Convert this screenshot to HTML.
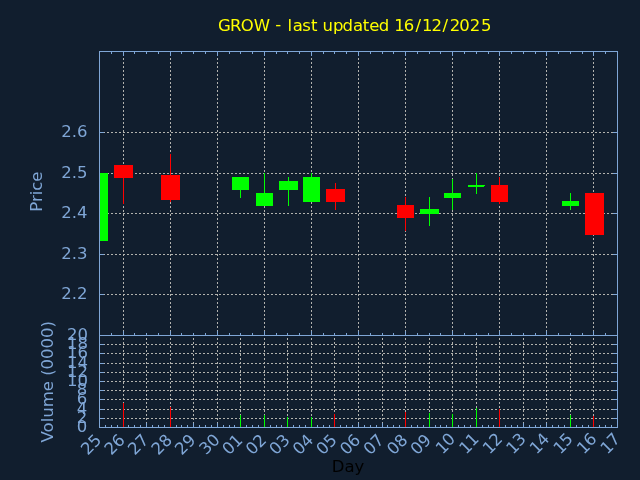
<!DOCTYPE html>
<html><head><meta charset="utf-8"><style>
html,body{margin:0;padding:0;background:#111e2e;width:640px;height:480px;overflow:hidden}
svg{display:block;will-change:transform}
</style></head><body>
<svg width="640" height="480" viewBox="0 0 640 480">
<rect width="640" height="480" fill="#111e2e"/>
<g stroke="#b2b2ae" stroke-width="1" stroke-dasharray="2 2" shape-rendering="crispEdges"><line x1="99" y1="132.5" x2="617" y2="132.5"/><line x1="99" y1="173.5" x2="617" y2="173.5"/><line x1="99" y1="213.5" x2="617" y2="213.5"/><line x1="99" y1="254.5" x2="617" y2="254.5"/><line x1="99" y1="294.5" x2="617" y2="294.5"/><line x1="123.5" y1="336" x2="123.5" y2="51"/><line x1="170.5" y1="336" x2="170.5" y2="51"/><line x1="217.5" y1="336" x2="217.5" y2="51"/><line x1="264.5" y1="336" x2="264.5" y2="51"/><line x1="311.5" y1="336" x2="311.5" y2="51"/><line x1="358.5" y1="336" x2="358.5" y2="51"/><line x1="405.5" y1="336" x2="405.5" y2="51"/><line x1="452.5" y1="336" x2="452.5" y2="51"/><line x1="499.5" y1="336" x2="499.5" y2="51"/><line x1="546.5" y1="336" x2="546.5" y2="51"/><line x1="593.5" y1="336" x2="593.5" y2="51"/><line x1="99" y1="344.5" x2="617" y2="344.5"/><line x1="99" y1="353.5" x2="617" y2="353.5"/><line x1="99" y1="363.5" x2="617" y2="363.5"/><line x1="99" y1="372.5" x2="617" y2="372.5"/><line x1="99" y1="381.5" x2="617" y2="381.5"/><line x1="99" y1="390.5" x2="617" y2="390.5"/><line x1="99" y1="399.5" x2="617" y2="399.5"/><line x1="99" y1="409.5" x2="617" y2="409.5"/><line x1="99" y1="418.5" x2="617" y2="418.5"/><line x1="123.5" y1="428" x2="123.5" y2="335"/><line x1="146.5" y1="428" x2="146.5" y2="335"/><line x1="170.5" y1="428" x2="170.5" y2="335"/><line x1="193.5" y1="428" x2="193.5" y2="335"/><line x1="217.5" y1="428" x2="217.5" y2="335"/><line x1="240.5" y1="428" x2="240.5" y2="335"/><line x1="264.5" y1="428" x2="264.5" y2="335"/><line x1="287.5" y1="428" x2="287.5" y2="335"/><line x1="311.5" y1="428" x2="311.5" y2="335"/><line x1="334.5" y1="428" x2="334.5" y2="335"/><line x1="358.5" y1="428" x2="358.5" y2="335"/><line x1="382.5" y1="428" x2="382.5" y2="335"/><line x1="405.5" y1="428" x2="405.5" y2="335"/><line x1="429.5" y1="428" x2="429.5" y2="335"/><line x1="452.5" y1="428" x2="452.5" y2="335"/><line x1="476.5" y1="428" x2="476.5" y2="335"/><line x1="499.5" y1="428" x2="499.5" y2="335"/><line x1="523.5" y1="428" x2="523.5" y2="335"/><line x1="546.5" y1="428" x2="546.5" y2="335"/><line x1="570.5" y1="428" x2="570.5" y2="335"/><line x1="593.5" y1="428" x2="593.5" y2="335"/></g>
<g fill="#7fa6d6" shape-rendering="crispEdges"><rect x="99" y="132" width="5" height="1"/><rect x="613" y="132" width="5" height="1"/><rect x="99" y="173" width="5" height="1"/><rect x="613" y="173" width="5" height="1"/><rect x="99" y="213" width="5" height="1"/><rect x="613" y="213" width="5" height="1"/><rect x="99" y="254" width="5" height="1"/><rect x="613" y="254" width="5" height="1"/><rect x="99" y="294" width="5" height="1"/><rect x="613" y="294" width="5" height="1"/><rect x="99" y="344" width="5" height="1"/><rect x="613" y="344" width="5" height="1"/><rect x="99" y="353" width="5" height="1"/><rect x="613" y="353" width="5" height="1"/><rect x="99" y="363" width="5" height="1"/><rect x="613" y="363" width="5" height="1"/><rect x="99" y="372" width="5" height="1"/><rect x="613" y="372" width="5" height="1"/><rect x="99" y="381" width="5" height="1"/><rect x="613" y="381" width="5" height="1"/><rect x="99" y="390" width="5" height="1"/><rect x="613" y="390" width="5" height="1"/><rect x="99" y="399" width="5" height="1"/><rect x="613" y="399" width="5" height="1"/><rect x="99" y="409" width="5" height="1"/><rect x="613" y="409" width="5" height="1"/><rect x="99" y="418" width="5" height="1"/><rect x="613" y="418" width="5" height="1"/><rect x="111" y="51" width="1" height="3"/><rect x="111" y="333" width="1" height="3"/><rect x="123" y="51" width="1" height="5"/><rect x="123" y="331" width="1" height="5"/><rect x="134" y="51" width="1" height="3"/><rect x="134" y="333" width="1" height="3"/><rect x="146" y="51" width="1" height="3"/><rect x="146" y="333" width="1" height="3"/><rect x="158" y="51" width="1" height="3"/><rect x="158" y="333" width="1" height="3"/><rect x="170" y="51" width="1" height="5"/><rect x="170" y="331" width="1" height="5"/><rect x="181" y="51" width="1" height="3"/><rect x="181" y="333" width="1" height="3"/><rect x="193" y="51" width="1" height="3"/><rect x="193" y="333" width="1" height="3"/><rect x="205" y="51" width="1" height="3"/><rect x="205" y="333" width="1" height="3"/><rect x="217" y="51" width="1" height="5"/><rect x="217" y="331" width="1" height="5"/><rect x="229" y="51" width="1" height="3"/><rect x="229" y="333" width="1" height="3"/><rect x="240" y="51" width="1" height="3"/><rect x="240" y="333" width="1" height="3"/><rect x="252" y="51" width="1" height="3"/><rect x="252" y="333" width="1" height="3"/><rect x="264" y="51" width="1" height="5"/><rect x="264" y="331" width="1" height="5"/><rect x="276" y="51" width="1" height="3"/><rect x="276" y="333" width="1" height="3"/><rect x="287" y="51" width="1" height="3"/><rect x="287" y="333" width="1" height="3"/><rect x="299" y="51" width="1" height="3"/><rect x="299" y="333" width="1" height="3"/><rect x="311" y="51" width="1" height="5"/><rect x="311" y="331" width="1" height="5"/><rect x="323" y="51" width="1" height="3"/><rect x="323" y="333" width="1" height="3"/><rect x="334" y="51" width="1" height="3"/><rect x="334" y="333" width="1" height="3"/><rect x="346" y="51" width="1" height="3"/><rect x="346" y="333" width="1" height="3"/><rect x="358" y="51" width="1" height="5"/><rect x="358" y="331" width="1" height="5"/><rect x="370" y="51" width="1" height="3"/><rect x="370" y="333" width="1" height="3"/><rect x="382" y="51" width="1" height="3"/><rect x="382" y="333" width="1" height="3"/><rect x="393" y="51" width="1" height="3"/><rect x="393" y="333" width="1" height="3"/><rect x="405" y="51" width="1" height="5"/><rect x="405" y="331" width="1" height="5"/><rect x="417" y="51" width="1" height="3"/><rect x="417" y="333" width="1" height="3"/><rect x="429" y="51" width="1" height="3"/><rect x="429" y="333" width="1" height="3"/><rect x="440" y="51" width="1" height="3"/><rect x="440" y="333" width="1" height="3"/><rect x="452" y="51" width="1" height="5"/><rect x="452" y="331" width="1" height="5"/><rect x="464" y="51" width="1" height="3"/><rect x="464" y="333" width="1" height="3"/><rect x="476" y="51" width="1" height="3"/><rect x="476" y="333" width="1" height="3"/><rect x="488" y="51" width="1" height="3"/><rect x="488" y="333" width="1" height="3"/><rect x="499" y="51" width="1" height="5"/><rect x="499" y="331" width="1" height="5"/><rect x="511" y="51" width="1" height="3"/><rect x="511" y="333" width="1" height="3"/><rect x="523" y="51" width="1" height="3"/><rect x="523" y="333" width="1" height="3"/><rect x="535" y="51" width="1" height="3"/><rect x="535" y="333" width="1" height="3"/><rect x="546" y="51" width="1" height="5"/><rect x="546" y="331" width="1" height="5"/><rect x="558" y="51" width="1" height="3"/><rect x="558" y="333" width="1" height="3"/><rect x="570" y="51" width="1" height="3"/><rect x="570" y="333" width="1" height="3"/><rect x="582" y="51" width="1" height="3"/><rect x="582" y="333" width="1" height="3"/><rect x="593" y="51" width="1" height="5"/><rect x="593" y="331" width="1" height="5"/><rect x="605" y="51" width="1" height="3"/><rect x="605" y="333" width="1" height="3"/><rect x="105" y="425" width="1" height="3"/><rect x="111" y="425" width="1" height="3"/><rect x="117" y="425" width="1" height="3"/><rect x="123" y="423" width="1" height="5"/><rect x="128" y="425" width="1" height="3"/><rect x="134" y="425" width="1" height="3"/><rect x="140" y="425" width="1" height="3"/><rect x="146" y="423" width="1" height="5"/><rect x="152" y="425" width="1" height="3"/><rect x="158" y="425" width="1" height="3"/><rect x="164" y="425" width="1" height="3"/><rect x="170" y="423" width="1" height="5"/><rect x="176" y="425" width="1" height="3"/><rect x="181" y="425" width="1" height="3"/><rect x="187" y="425" width="1" height="3"/><rect x="193" y="423" width="1" height="5"/><rect x="199" y="425" width="1" height="3"/><rect x="205" y="425" width="1" height="3"/><rect x="211" y="425" width="1" height="3"/><rect x="217" y="423" width="1" height="5"/><rect x="223" y="425" width="1" height="3"/><rect x="229" y="425" width="1" height="3"/><rect x="234" y="425" width="1" height="3"/><rect x="240" y="423" width="1" height="5"/><rect x="246" y="425" width="1" height="3"/><rect x="252" y="425" width="1" height="3"/><rect x="258" y="425" width="1" height="3"/><rect x="264" y="423" width="1" height="5"/><rect x="270" y="425" width="1" height="3"/><rect x="276" y="425" width="1" height="3"/><rect x="281" y="425" width="1" height="3"/><rect x="287" y="423" width="1" height="5"/><rect x="293" y="425" width="1" height="3"/><rect x="299" y="425" width="1" height="3"/><rect x="305" y="425" width="1" height="3"/><rect x="311" y="423" width="1" height="5"/><rect x="317" y="425" width="1" height="3"/><rect x="323" y="425" width="1" height="3"/><rect x="329" y="425" width="1" height="3"/><rect x="334" y="423" width="1" height="5"/><rect x="340" y="425" width="1" height="3"/><rect x="346" y="425" width="1" height="3"/><rect x="352" y="425" width="1" height="3"/><rect x="358" y="423" width="1" height="5"/><rect x="364" y="425" width="1" height="3"/><rect x="370" y="425" width="1" height="3"/><rect x="376" y="425" width="1" height="3"/><rect x="382" y="423" width="1" height="5"/><rect x="387" y="425" width="1" height="3"/><rect x="393" y="425" width="1" height="3"/><rect x="399" y="425" width="1" height="3"/><rect x="405" y="423" width="1" height="5"/><rect x="411" y="425" width="1" height="3"/><rect x="417" y="425" width="1" height="3"/><rect x="423" y="425" width="1" height="3"/><rect x="429" y="423" width="1" height="5"/><rect x="435" y="425" width="1" height="3"/><rect x="440" y="425" width="1" height="3"/><rect x="446" y="425" width="1" height="3"/><rect x="452" y="423" width="1" height="5"/><rect x="458" y="425" width="1" height="3"/><rect x="464" y="425" width="1" height="3"/><rect x="470" y="425" width="1" height="3"/><rect x="476" y="423" width="1" height="5"/><rect x="482" y="425" width="1" height="3"/><rect x="488" y="425" width="1" height="3"/><rect x="493" y="425" width="1" height="3"/><rect x="499" y="423" width="1" height="5"/><rect x="505" y="425" width="1" height="3"/><rect x="511" y="425" width="1" height="3"/><rect x="517" y="425" width="1" height="3"/><rect x="523" y="423" width="1" height="5"/><rect x="529" y="425" width="1" height="3"/><rect x="535" y="425" width="1" height="3"/><rect x="540" y="425" width="1" height="3"/><rect x="546" y="423" width="1" height="5"/><rect x="552" y="425" width="1" height="3"/><rect x="558" y="425" width="1" height="3"/><rect x="564" y="425" width="1" height="3"/><rect x="570" y="423" width="1" height="5"/><rect x="576" y="425" width="1" height="3"/><rect x="582" y="425" width="1" height="3"/><rect x="588" y="425" width="1" height="3"/><rect x="593" y="423" width="1" height="5"/><rect x="599" y="425" width="1" height="3"/><rect x="605" y="425" width="1" height="3"/><rect x="611" y="425" width="1" height="3"/></g>
<g shape-rendering="crispEdges"><rect x="100" y="173" width="8" height="68" fill="#00ff00"/><rect x="114" y="165" width="19" height="13" fill="#ff0000"/><rect x="123" y="178" width="1" height="26" fill="#ff0000"/><rect x="161" y="175" width="19" height="25" fill="#ff0000"/><rect x="170" y="154" width="1" height="21" fill="#ff0000"/><rect x="170" y="200" width="1" height="2" fill="#ff0000"/><rect x="232" y="177" width="17" height="13" fill="#00ff00"/><rect x="240" y="190" width="1" height="8" fill="#00ff00"/><rect x="256" y="193" width="17" height="13" fill="#00ff00"/><rect x="264" y="173" width="1" height="20" fill="#00ff00"/><rect x="279" y="181" width="19" height="9" fill="#00ff00"/><rect x="288" y="177" width="1" height="4" fill="#00ff00"/><rect x="288" y="190" width="1" height="16" fill="#00ff00"/><rect x="303" y="177" width="17" height="25" fill="#00ff00"/><rect x="311" y="173" width="1" height="4" fill="#00ff00"/><rect x="326" y="189" width="19" height="13" fill="#ff0000"/><rect x="335" y="183" width="1" height="6" fill="#ff0000"/><rect x="335" y="202" width="1" height="8" fill="#ff0000"/><rect x="397" y="205" width="17" height="13" fill="#ff0000"/><rect x="405" y="197" width="1" height="8" fill="#ff0000"/><rect x="405" y="218" width="1" height="13" fill="#ff0000"/><rect x="420" y="209" width="19" height="5" fill="#00ff00"/><rect x="429" y="197" width="1" height="12" fill="#00ff00"/><rect x="429" y="214" width="1" height="12" fill="#00ff00"/><rect x="444" y="193" width="17" height="5" fill="#00ff00"/><rect x="452" y="179" width="1" height="14" fill="#00ff00"/><rect x="452" y="198" width="1" height="12" fill="#00ff00"/><rect x="468" y="185" width="17" height="2" fill="#00ff00"/><rect x="476" y="173" width="1" height="12" fill="#00ff00"/><rect x="476" y="187" width="1" height="7" fill="#00ff00"/><rect x="491" y="185" width="17" height="17" fill="#ff0000"/><rect x="499" y="177" width="1" height="8" fill="#ff0000"/><rect x="499" y="202" width="1" height="2" fill="#ff0000"/><rect x="562" y="201" width="17" height="5" fill="#00ff00"/><rect x="570" y="193" width="1" height="8" fill="#00ff00"/><rect x="570" y="206" width="1" height="4" fill="#00ff00"/><rect x="585" y="193" width="19" height="42" fill="#ff0000"/><rect x="123" y="403" width="1" height="24" fill="#ff0000"/><rect x="170" y="407" width="1" height="20" fill="#ff0000"/><rect x="240" y="415" width="1" height="12" fill="#00ff00"/><rect x="264" y="415" width="1" height="12" fill="#00ff00"/><rect x="287" y="417" width="1" height="10" fill="#00ff00"/><rect x="311" y="417" width="1" height="10" fill="#00ff00"/><rect x="334" y="414" width="1" height="13" fill="#ff0000"/><rect x="405" y="412" width="1" height="15" fill="#ff0000"/><rect x="429" y="413" width="1" height="14" fill="#00ff00"/><rect x="452" y="414" width="1" height="13" fill="#00ff00"/><rect x="476" y="408" width="1" height="19" fill="#00ff00"/><rect x="499" y="409" width="1" height="18" fill="#ff0000"/><rect x="570" y="415" width="1" height="12" fill="#00ff00"/><rect x="593" y="416" width="1" height="11" fill="#ff0000"/><rect x="484" y="186" width="1" height="1" fill="#111e2e"/></g>
<g fill="#7fa6d6" shape-rendering="crispEdges"><rect x="99" y="51" width="519" height="1"/><rect x="99" y="335" width="519" height="1"/><rect x="99" y="51" width="1" height="285"/><rect x="617" y="51" width="1" height="285"/><rect x="99" y="427" width="519" height="1"/><rect x="99" y="335" width="1" height="93"/><rect x="617" y="335" width="1" height="93"/></g>
<g font-family="'DejaVu Sans', 'Liberation Sans', sans-serif" font-size="16.5" fill="#7fa6d6"><text x="217.92 230.00 240.87 253.85 271.06 275.31 282.27 287.50 292.79 302.20 311.00 317.27 322.62 332.97 342.54 353.02 362.83 369.20 378.64 391.13 394.26 403.86 415.46 421.92 431.52 442.42 449.67 459.37 469.87 480.97" y="30.50 30.50 30.50 30.50 30.50 29.50 30.50 30.50 30.50 30.50 30.50 30.50 30.50 30.50 30.50 30.50 30.50 30.50 30.50 30.50 30.50 30.50 30.50 30.50 30.50 30.50 30.50 30.50 30.50 30.50" fill="#ffff00" xml:space="preserve">GROW - last updated 16/12/2025</text><text x="87.6" y="137" text-anchor="end">2.6</text><text x="87.6" y="178" text-anchor="end">2.5</text><text x="87.6" y="218" text-anchor="end">2.4</text><text x="87.6" y="259" text-anchor="end">2.3</text><text x="87.6" y="299" text-anchor="end">2.2</text><text x="88" y="340" text-anchor="end">20</text><text x="88" y="349" text-anchor="end">18</text><text x="88" y="358" text-anchor="end">16</text><text x="88" y="368" text-anchor="end">14</text><text x="88" y="377" text-anchor="end">12</text><text x="88" y="386" text-anchor="end">10</text><text x="87.3" y="395" text-anchor="end">8</text><text x="87.3" y="404" text-anchor="end">6</text><text x="87.3" y="414" text-anchor="end">4</text><text x="87.3" y="423" text-anchor="end">2</text><text x="87.3" y="432" text-anchor="end">0</text><text transform="translate(41.7,191.6) rotate(-90)" text-anchor="middle">Price</text><text transform="translate(53,381.7) rotate(-90)" text-anchor="middle">Volume (0000)</text><text x="348" y="471.7" text-anchor="middle" fill="#000000">Day</text><text transform="translate(102.50,441.00) rotate(-45)" text-anchor="end">25</text><text transform="translate(126.05,441.00) rotate(-45)" text-anchor="end">26</text><text transform="translate(149.59,441.00) rotate(-45)" text-anchor="end">27</text><text transform="translate(173.14,441.00) rotate(-45)" text-anchor="end">28</text><text transform="translate(196.68,441.00) rotate(-45)" text-anchor="end">29</text><text transform="translate(220.83,440.70) rotate(-45)" text-anchor="end">30</text><text transform="translate(243.77,441.00) rotate(-45)" text-anchor="end">01</text><text transform="translate(267.32,441.00) rotate(-45)" text-anchor="end">02</text><text transform="translate(290.86,441.00) rotate(-45)" text-anchor="end">03</text><text transform="translate(314.41,441.00) rotate(-45)" text-anchor="end">04</text><text transform="translate(337.95,441.00) rotate(-45)" text-anchor="end">05</text><text transform="translate(361.50,441.00) rotate(-45)" text-anchor="end">06</text><text transform="translate(385.05,441.00) rotate(-45)" text-anchor="end">07</text><text transform="translate(408.59,441.00) rotate(-45)" text-anchor="end">08</text><text transform="translate(432.14,441.00) rotate(-45)" text-anchor="end">09</text><text transform="translate(456.28,439.80) rotate(-45)" text-anchor="end"><tspan dy="0.99">1</tspan><tspan dx="-0.41" dy="-0.99">0</tspan></text><text transform="translate(479.83,439.80) rotate(-45)" text-anchor="end"><tspan dy="0.99">1</tspan><tspan dx="-0.41" dy="-0.99">1</tspan></text><text transform="translate(503.37,439.80) rotate(-45)" text-anchor="end"><tspan dy="0.99">1</tspan><tspan dx="-0.41" dy="-0.99">2</tspan></text><text transform="translate(526.92,439.80) rotate(-45)" text-anchor="end"><tspan dy="0.99">1</tspan><tspan dx="-0.41" dy="-0.99">3</tspan></text><text transform="translate(550.46,439.80) rotate(-45)" text-anchor="end"><tspan dy="0.99">1</tspan><tspan dx="-0.41" dy="-0.99">4</tspan></text><text transform="translate(574.01,439.80) rotate(-45)" text-anchor="end"><tspan dy="0.99">1</tspan><tspan dx="-0.41" dy="-0.99">5</tspan></text><text transform="translate(597.55,439.80) rotate(-45)" text-anchor="end"><tspan dy="0.99">1</tspan><tspan dx="-0.41" dy="-0.99">6</tspan></text><text transform="translate(621.10,439.80) rotate(-45)" text-anchor="end"><tspan dy="0.99">1</tspan><tspan dx="-0.41" dy="-0.99">7</tspan></text></g>
</svg>
</body></html>
